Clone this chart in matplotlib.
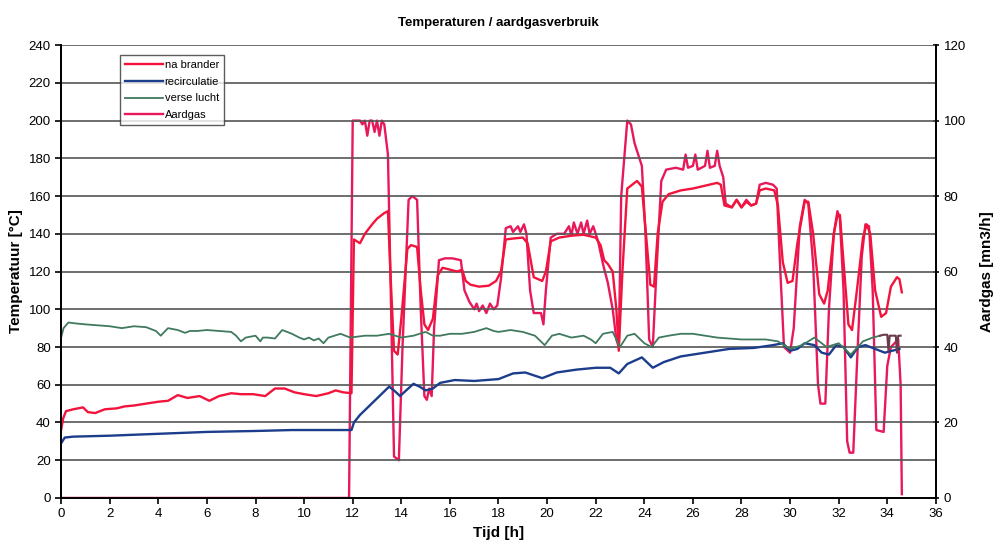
import matplotlib
matplotlib.use("Agg")
import matplotlib.pyplot as plt

plt.rcParams['font.family'] = ['Liberation Sans', 'DejaVu Sans']

# na brander temperature (degC)
brander_t = [0, 0.08, 0.2, 0.5, 0.9, 1.1, 1.4, 1.8, 2.3, 2.6, 3.0, 3.5, 4.0, 4.4, 4.8, 5.2, 5.7,
             6.1, 6.5, 7.0, 7.4, 7.9, 8.4, 8.8, 9.2, 9.6, 10.0, 10.5, 11.0, 11.3, 11.6, 11.95,
             12.05, 12.3, 12.5, 12.8, 13.0, 13.3, 13.45, 13.55, 13.7, 13.85, 14.0, 14.25, 14.4,
             14.65, 14.8, 14.95, 15.1, 15.3, 15.5, 15.7, 16.0, 16.3, 16.5, 16.65, 16.85, 17.2,
             17.6, 17.9, 18.1, 18.3, 18.6, 19.0, 19.2, 19.45, 19.8, 19.95, 20.15, 20.5, 21.0,
             21.5, 22.0, 22.2, 22.35, 22.5, 22.7, 22.85, 22.95, 23.1, 23.3, 23.5, 23.7, 23.9,
             24.1, 24.25, 24.4, 24.55, 24.75, 25.0, 25.5, 26.0, 26.5, 27.0, 27.15, 27.3, 27.6,
             27.8, 28.0, 28.2, 28.4, 28.6, 28.75, 29.0, 29.35, 29.5, 29.7, 29.9, 30.1, 30.3,
             30.6, 30.75, 30.95, 31.2, 31.4, 31.55, 31.8, 31.95, 32.05, 32.2, 32.4, 32.55, 32.75,
             33.0, 33.15, 33.3, 33.5, 33.75, 33.95, 34.15, 34.4, 34.5, 34.6]
brander_v = [36, 42, 46, 47, 48, 45.5, 45, 47, 47.5, 48.5, 49, 50, 51, 51.5, 54.5, 53, 54,
             51.5, 54, 55.5, 55, 55, 54, 58, 58, 56, 55, 54, 55.5, 57, 56, 55.5,
             137, 135, 140, 145, 148, 151, 152, 120, 78, 76, 95, 132, 134,
             133, 110, 92, 89, 95, 118, 122, 121, 120, 121, 115, 113, 112,
             112.5, 115, 120, 137, 137.5, 138, 135, 117, 115, 120, 136, 138, 139,
             139.5, 138, 134, 126, 124, 120, 100, 78, 120, 164, 166, 168, 165,
             135, 113, 112, 140, 157, 161, 163, 164, 165.5, 167, 166, 155, 154,
             158, 154, 157, 155, 156, 163, 164, 163, 155, 125, 114, 115, 135,
             157, 157, 140, 108, 103, 110, 140, 150, 150, 125, 92, 89, 110,
             138, 145, 140, 110, 96, 98, 112, 117, 116, 109]

# recirculatie temperature (degC)
recirc_t = [0, 0.15, 0.5, 2, 4, 6, 8, 9.5, 11.95, 12.05, 12.3, 12.7, 13.1, 13.5, 13.7, 13.95,
            14.2, 14.5, 14.75, 15.0, 15.3, 15.6, 16.2, 17.0, 18.0, 18.6, 19.1, 19.8, 20.4,
            21.2, 22.0, 22.6, 22.95, 23.3, 23.9, 24.35, 24.8, 25.5, 26.5, 27.5, 28.5, 29.3,
            29.7, 30.0, 30.3, 30.6, 31.0, 31.3, 31.6, 31.9, 32.2, 32.5, 32.8, 33.1, 33.5,
            33.9, 34.2, 34.5]
recirc_v = [29, 32, 32.5, 33, 34, 35, 35.5, 36, 36, 40, 44, 49, 54, 59, 57, 54,
            57, 60.5, 59, 57, 58, 61, 62.5, 62, 63, 66, 66.5, 63.5, 66.5,
            68, 69, 69, 66, 71, 74.5, 69, 72, 75, 77, 79, 79.5, 81,
            82, 78, 79, 82, 81, 77, 76, 81, 80, 74.5, 80, 81, 79,
            77, 78, 79]

# verse lucht temperature (degC)
verse_t = [0, 0.1, 0.3, 0.6, 1.0, 1.5, 2.0, 2.5, 3.0, 3.5, 3.9, 4.1, 4.4, 4.8, 5.1, 5.3, 5.6,
           6.0, 6.5, 7.0, 7.2, 7.4, 7.6, 7.8, 8.0, 8.2, 8.3, 8.5, 8.8, 9.1, 9.5, 9.8, 10.0,
           10.2, 10.4, 10.6, 10.8, 11.0, 11.5, 11.9, 12.2, 12.5, 13.0, 13.5, 14.0, 14.5, 15.0,
           15.3, 15.6, 16.0, 16.5, 17.0, 17.5, 17.8, 18.0, 18.5, 19.0, 19.5, 19.9, 20.2, 20.5,
           21.0, 21.5, 21.8, 22.0, 22.3, 22.7, 23.0, 23.3, 23.6, 24.0, 24.3, 24.6, 25.0, 25.5,
           26.0, 26.5, 27.0, 27.5, 28.0, 28.5, 29.0, 29.5, 30.0, 30.5, 31.0, 31.5, 32.0, 32.5,
           33.0, 33.4, 33.7]
verse_v = [85, 90, 93, 92.5, 92, 91.5, 91, 90, 91, 90.5, 88.5, 86, 90, 89, 87.5, 88.5, 88.5,
           89, 88.5, 88, 86, 83, 85, 85.5, 86, 83, 85, 85, 84.5, 89, 87, 85, 84,
           85, 83.5, 84.5, 82, 85, 87, 85, 85.5, 86, 86, 87, 85, 86, 88,
           86, 86, 87, 87, 88, 90, 88.5, 88, 89, 88, 86, 81, 86, 87,
           85, 86, 84, 82, 87, 88, 80, 86, 87, 82, 80, 85, 86, 87,
           87, 86, 85, 84.5, 84, 84, 84, 83, 79, 81, 85, 80, 82, 76,
           83, 85, 86]

# tail piece drawn in brown at the end of verse lucht
tail_t = [33.7, 33.85, 34.0, 34.05, 34.1, 34.35, 34.4, 34.45, 34.55]
tail_v = [86, 86.5, 86.5, 78, 86, 86, 77, 86, 86]

# Aardgas (mn3/h)
gas_t = [0, 11.85, 12.0, 12.3, 12.4, 12.5, 12.6, 12.7, 12.8, 12.9, 13.0, 13.1, 13.2, 13.3,
         13.45, 13.55, 13.7, 13.9, 14.05, 14.3, 14.45, 14.65, 14.8, 14.95, 15.05, 15.15, 15.25,
         15.35, 15.55, 15.8, 16.1, 16.45, 16.6, 16.8, 17.0, 17.1, 17.2, 17.35, 17.5, 17.65,
         17.8, 17.95, 18.1, 18.3, 18.5, 18.6, 18.8, 18.9, 19.05, 19.15, 19.3, 19.45, 19.75,
         19.85, 19.95, 20.15, 20.4, 20.7, 20.9, 21.0, 21.1, 21.25, 21.4, 21.5, 21.65, 21.75,
         21.9, 22.1, 22.3, 22.5, 22.7, 22.85, 22.95, 23.05, 23.3, 23.45, 23.6, 23.75, 23.9,
         24.05, 24.2, 24.35, 24.5, 24.7, 24.9, 25.3, 25.6, 25.7, 25.8, 26.0, 26.1, 26.2, 26.5,
         26.6, 26.7, 26.9, 27.0, 27.1, 27.25, 27.35, 27.6, 27.8, 28.0, 28.2, 28.4, 28.6,
         28.75, 29.0, 29.3, 29.45, 29.6, 29.75, 30.0, 30.15, 30.4, 30.6, 30.75, 30.95, 31.15,
         31.25, 31.45, 31.6, 31.8, 31.95, 32.05, 32.2, 32.35, 32.45, 32.6, 32.75, 32.95, 33.1,
         33.25, 33.4, 33.55, 33.85, 34.0, 34.15, 34.45, 34.55, 34.6]
gas_v = [0, 0, 100, 100, 99, 100, 96, 100, 100, 97, 100, 96, 100, 99,
         91, 60, 11, 10, 40, 79, 80, 79, 50, 27, 26, 29, 27,
         45, 63, 63.5, 63.5, 63, 55, 52, 50, 51.5, 49.5, 51, 49, 51.5,
         50, 51, 58, 71.5, 72, 70.5, 72, 70.5, 72.5, 70, 55, 49, 49,
         46, 55, 69, 70, 70, 72, 69.5, 73, 70, 73, 70, 73.5, 70,
         72, 68, 62, 57, 50, 42, 40, 80, 100, 99, 94, 91, 88,
         70, 42, 40, 60, 84, 87, 87.5, 87, 91, 87.5, 88, 91, 87, 88,
         92, 87.5, 88, 92, 88, 85, 78, 77, 79, 77, 79, 77.5, 78,
         83, 83.5, 83, 82, 60, 40, 38.5, 45, 72, 79, 78, 62, 30,
         25, 25, 50, 70, 76, 74, 55, 15, 12, 12, 35, 64, 72.5,
         72, 55, 18, 17.5, 35, 40, 42, 30, 1]

fig, ax = plt.subplots(figsize=(10.02, 5.57), dpi=100)
fig.subplots_adjust(left=0.061, right=0.934, bottom=0.106, top=0.919)
ax2 = ax.twinx()

ax.set_zorder(ax2.get_zorder() + 1)
ax.patch.set_visible(False)

l1, = ax.plot(brander_t, brander_v, color='#f2143c', lw=1.7, label='na brander')
l2, = ax.plot(recirc_t, recirc_v, color='#1c3c8c', lw=1.7, label='recirculatie')
l3, = ax.plot(verse_t, verse_v, color='#3f7a5e', lw=1.3, label='verse lucht')
ax.plot(tail_t, tail_v, color='#6a3b48', lw=1.5)
l4, = ax2.plot(gas_t, gas_v, color='#e8195a', lw=1.7, label='Aardgas')

ax.set_xlim(0, 36)
ax.set_ylim(0, 240)
ax2.set_ylim(0, 120)
ax.set_xticks(range(0, 37, 2))
ax.set_yticks(range(0, 241, 20))
ax2.set_yticks(range(0, 121, 20))

ax.yaxis.grid(True, color='#555555', lw=1.2)
ax.set_axisbelow(True)
for a in (ax, ax2):
    a.spines['top'].set_visible(False)
    a.spines['left'].set_linewidth(1.3)
    a.spines['bottom'].set_linewidth(1.3)
    a.spines['right'].set_linewidth(1.3)
ax.tick_params(labelsize=9.5, length=4, width=1.2)
ax2.tick_params(labelsize=9.5, length=4, width=1.2, direction='inout')

ax.set_title('Temperaturen / aardgasverbruik', fontsize=9.5, fontweight='bold', pad=14)
ax.set_xlabel('Tijd [h]', fontsize=11, fontweight='bold', labelpad=4)
ax.set_ylabel('Temperatuur [°C]', fontsize=11, fontweight='bold', labelpad=4)
ax2.set_ylabel('Aardgas [mn3/h]', fontsize=11, fontweight='bold', labelpad=10)

leg = ax.legend(handles=[l1, l2, l3, l4], loc='upper left', bbox_to_anchor=(0.067, 0.978),
                fontsize=8, frameon=True, fancybox=False, edgecolor='#333333',
                handlelength=3.4, handletextpad=0.2, borderpad=0.45, labelspacing=0.6,
                borderaxespad=0)
leg.get_frame().set_linewidth(1.0)

plt.savefig('out.png', dpi=100)
